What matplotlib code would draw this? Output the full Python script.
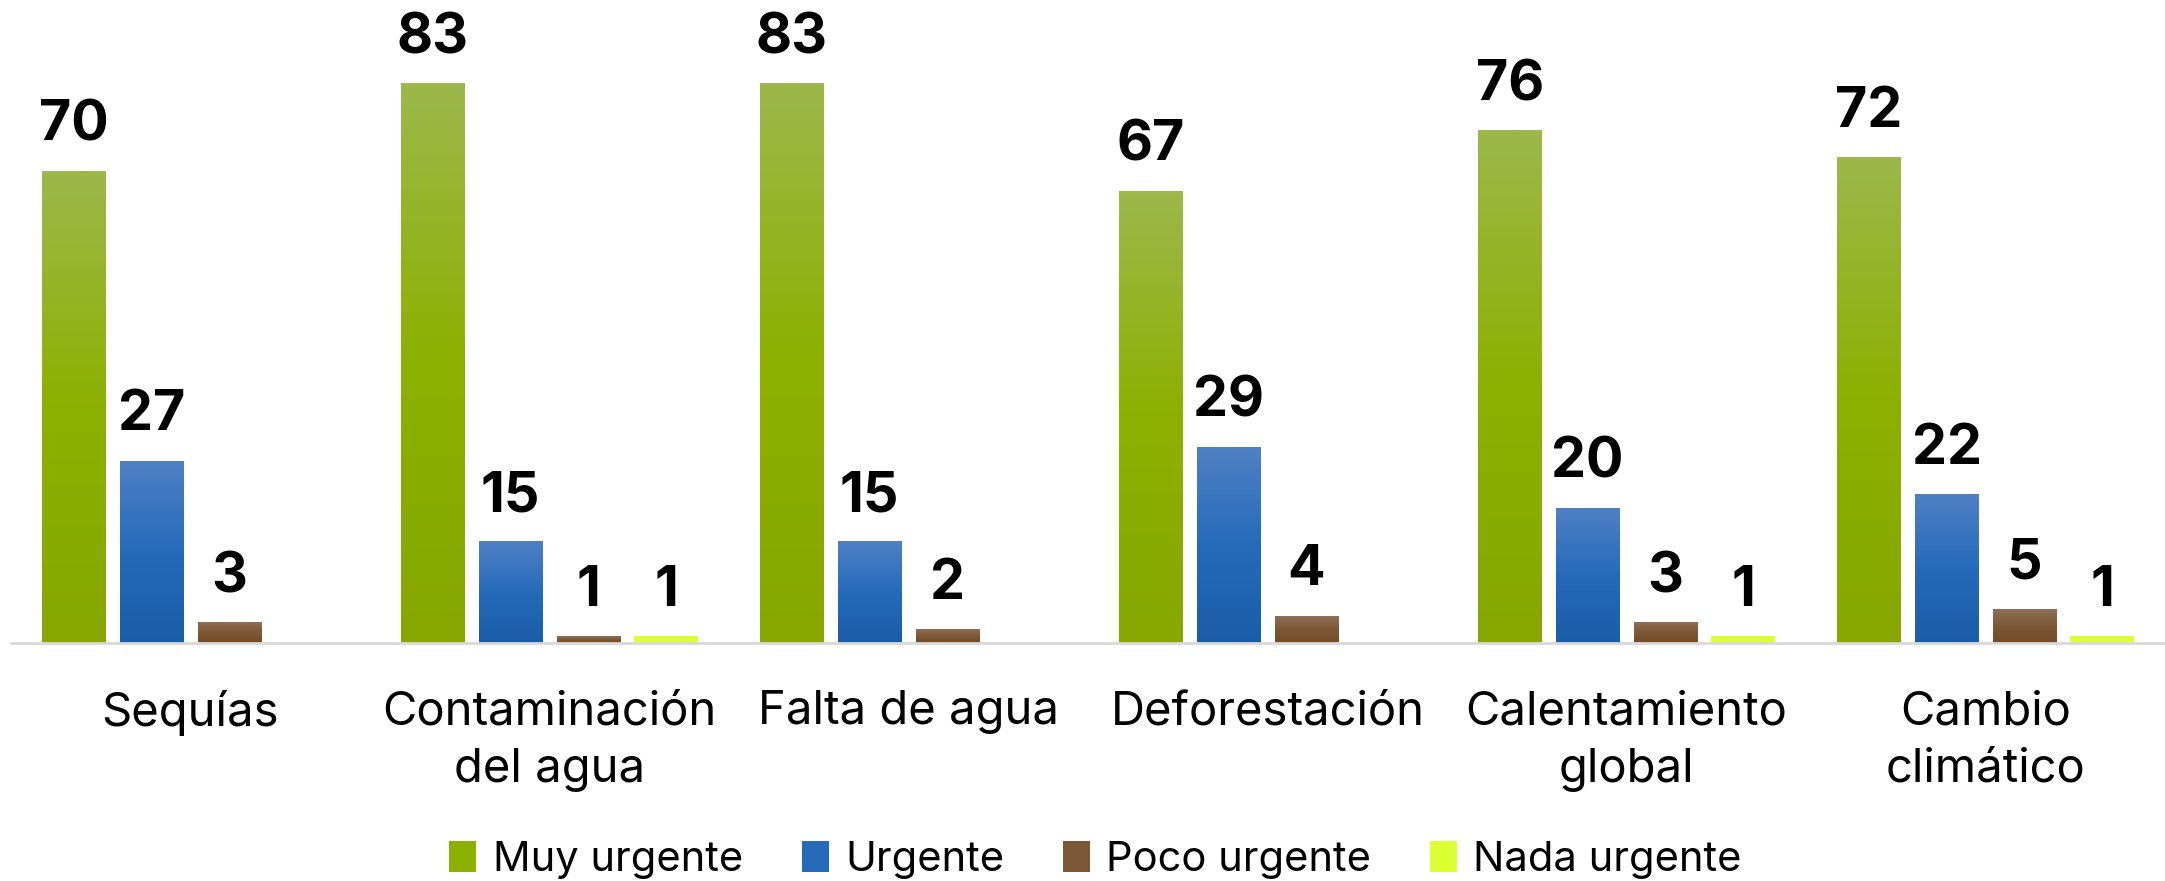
import numpy as np
import matplotlib
matplotlib.use("Agg")
import matplotlib.pyplot as plt
from matplotlib.colors import LinearSegmentedColormap
from matplotlib.patches import Patch

categories = ["Sequías", "Contaminación\ndel agua", "Falta de agua",
              "Deforestación", "Calentamiento\nglobal", "Cambio\nclimático"]
series = ["Muy urgente", "Urgente", "Poco urgente", "Nada urgente"]
muy_urgente = [70, 83, 83, 67, 76, 72]
urgente = [27, 15, 15, 29, 20, 22]
poco_urgente = [3, 1, 2, 4, 3, 5]
nada_urgente = [0, 1, 0, 0, 1, 1]

# top, middle, bottom colour of each series' gradient
gradients = [
    ["#9DB84B", "#8DB000", "#87A700"],
    ["#5080C4", "#256BBA", "#1A5DA8"],
    ["#8D6F56", "#7D5836", "#744B27"],
    ["#DBFF33", "#DBFF33", "#DBFF33"],
]

plt.rcParams["font.family"] = ["Inter", "DejaVu Sans"]

fig = plt.figure(figsize=(21.65, 8.81), dpi=100)
ax = fig.add_axes([11 / 2165, 238 / 881, 2154 / 2165, 643 / 881])

x = np.arange(len(categories))
step = 0.2165
width = 0.177
grad = np.linspace(0, 1, 256).reshape(-1, 1)

for i, vals in enumerate([muy_urgente, urgente, poco_urgente, nada_urgente]):
    cmap = LinearSegmentedColormap.from_list(series[i], gradients[i])
    bars = ax.bar(x + (i - 1.5) * step, vals, width, color=gradients[i][1], zorder=2)
    for rect, v in zip(bars, vals):
        if v == 0:
            continue
        x0, w, h = rect.get_x(), rect.get_width(), rect.get_height()
        ax.imshow(grad, cmap=cmap, extent=[x0, x0 + w, 0, h], aspect="auto", zorder=3)
        ax.annotate(str(v), (x0 + w / 2, h), xytext=(0, 22), textcoords="offset points",
                    ha="center", va="baseline", fontsize=40, fontweight="bold", color="black")

ax.set_xlim(-0.5, len(categories) - 0.5)
ax.set_ylim(0, 95.4)
ax.set_xticks(x)
ax.set_xticklabels(categories, fontsize=34, linespacing=1.4)
ax.tick_params(axis="x", length=0, pad=34)
ax.set_yticks([])
for s in ["top", "left", "right"]:
    ax.spines[s].set_visible(False)
ax.spines["bottom"].set_color("#D9D9D9")
ax.spines["bottom"].set_linewidth(2)
ax.spines["bottom"].set_zorder(4)

handles = [Patch(facecolor=g[1]) for g in gradients]
fig.legend(handles, series, loc="center", bbox_to_anchor=(0.506, 1 - 860 / 881), ncol=4,
           frameon=False, fontsize=30, handlelength=0.65, handleheight=0.75,
           handletextpad=0.4, columnspacing=1.4)

fig.savefig("out.png", dpi=100)
